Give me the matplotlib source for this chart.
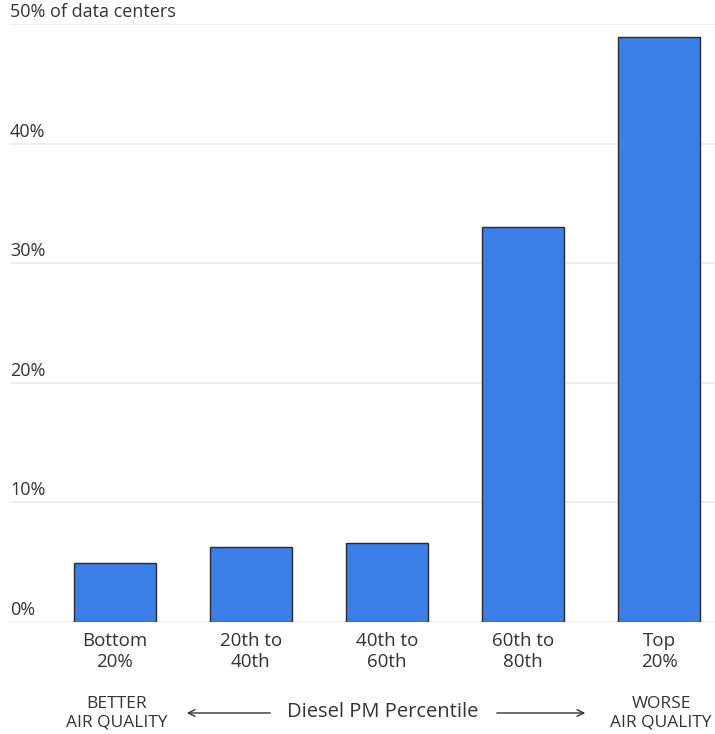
import matplotlib.pyplot as plt
import numpy as np

plt.rcParams['font.family'] = ['Open Sans', 'DejaVu Sans']

# share of data centers by diesel PM percentile group
groups = ["Bottom\n20%", "20th to\n40th", "40th to\n60th", "60th to\n80th", "Top\n20%"]
share = [4.9, 6.3, 6.6, 33.0, 48.9]
yticks = [0, 10, 20, 30, 40, 50]
ytick_labels = ["0%", "10%", "20%", "30%", "40%", "50% of data centers"]

bar_color = '#3a7ee6'
text_color = '#333333'

fig = plt.figure(figsize=(7.15, 7.34), dpi=100)
ax = fig.add_axes([10 / 715, 112 / 734, 705 / 715, 598 / 734])

x = np.arange(len(groups))
ax.bar(x, share, width=0.6, color=bar_color, edgecolor='#2b2b2b', linewidth=1, zorder=3)

ax.set_xlim(-0.77, 4.41)
ax.set_ylim(0, 50)

# horizontal grid with labels sitting on top of each line
for v, lab in zip(yticks, ytick_labels):
    ax.axhline(v, color='#ebebeb', lw=1.2, zorder=1)
    ax.text(-0.77, v + 0.25, lab, ha='left', va='bottom', fontsize=13, color=text_color)

for s in ax.spines.values():
    s.set_visible(False)
ax.set_yticks([])
ax.set_xticks(x)
ax.set_xticklabels(groups, fontsize=13.5, color=text_color, linespacing=1.2)
ax.tick_params(axis='x', length=0, pad=7)

# bottom direction labels
def fx(px):
    return px / 715

fig.text(fx(117), 1 - 713 / 734, "BETTER\nAIR QUALITY", ha='center', va='center',
         fontsize=12.5, color=text_color, linespacing=1.2)
fig.text(fx(661), 1 - 713 / 734, "WORSE\nAIR QUALITY", ha='center', va='center',
         fontsize=12.5, color=text_color, linespacing=1.2)
fig.text(fx(383), 1 - 712 / 734, "Diesel PM Percentile", ha='center', va='center',
         fontsize=14.5, color=text_color)

ay = 1 - 713 / 734
fig.patches.append(plt.matplotlib.patches.FancyArrowPatch(
    (fx(273), ay), (fx(184), ay), transform=fig.transFigure,
    arrowstyle='->', mutation_scale=12, color=text_color, lw=1))
fig.patches.append(plt.matplotlib.patches.FancyArrowPatch(
    (fx(494), ay), (fx(588), ay), transform=fig.transFigure,
    arrowstyle='->', mutation_scale=12, color=text_color, lw=1))

fig.savefig("out.png", dpi=100)
